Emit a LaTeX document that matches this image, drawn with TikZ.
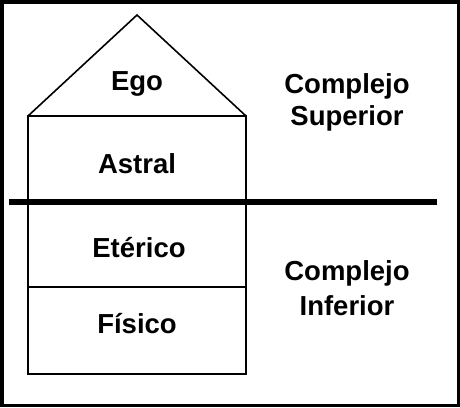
\documentclass[tikz,border=0pt]{standalone}
\usepackage{fontspec}
\setmainfont{Liberation Sans}
\begin{document}
\begin{tikzpicture}[x=1pt,y=-1pt,
  lbl/.style={font=\fontsize{27.5}{32}\selectfont\bfseries, anchor=base, inner sep=0pt},
  thin/.style={line width=1.6pt, line join=miter}]
\useasboundingbox (0,0) rectangle (460,407);
\draw[line width=3.5pt] (1.75,1.75) rectangle (458.25,405.25);
% house
\coordinate (apex) at (137,15);
\coordinate (tl) at (28,116);
\coordinate (tr) at (246,116);
\coordinate (bl) at (28,374);
\coordinate (br) at (246,374);
\coordinate (ml) at (28,287);
\coordinate (mr) at (246,287);
\draw[thin] (tl) -- (apex) -- (tr);
\draw[thin] (tl) rectangle (br);
\draw[thin] (ml) -- (mr);
% thick divider
\coordinate (dl) at (9,202);
\coordinate (dr) at (437,202);
\draw[line width=6pt] (dl) -- (dr);
% labels
\node[lbl] (ego) at (137,90) {Ego};
\node[lbl] (astral) at (137,173) {Astral};
\node[lbl] (eterico) at (139,257) {Etérico};
\node[lbl] (fisico) at (137,333) {Físico};
\node[lbl] (c1) at (347,93) {Complejo};
\node[lbl] (sup) at (347,125) {Superior};
\node[lbl] (c2) at (347,280) {Complejo};
\node[lbl] (inf) at (347,315) {Inferior};
\end{tikzpicture}
\end{document}
